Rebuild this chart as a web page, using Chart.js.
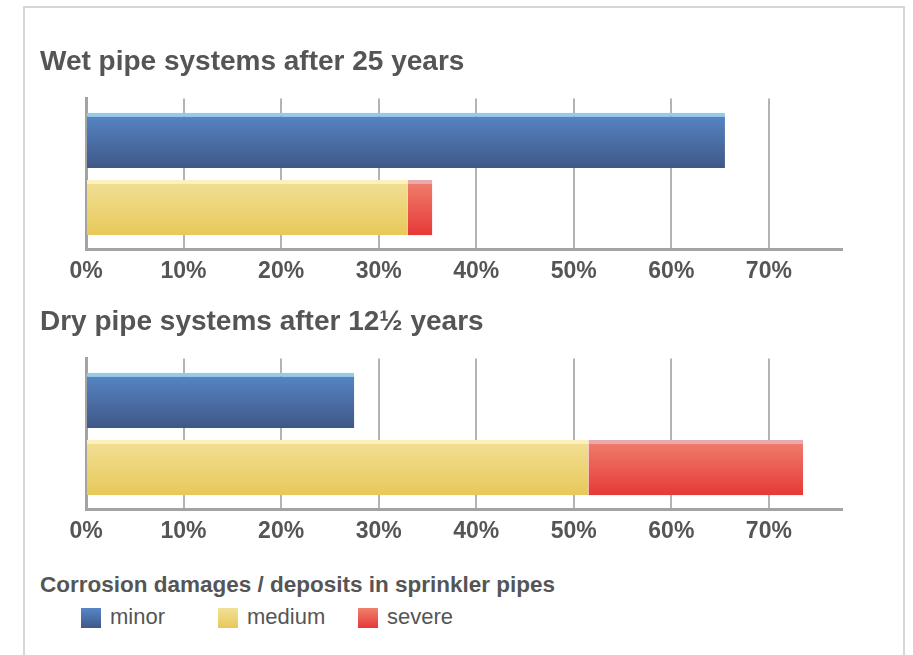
<!DOCTYPE html>
<html>
<head>
<meta charset="utf-8">
<script src="https://cdn.jsdelivr.net/npm/chart.js@4/dist/chart.umd.min.js"></script>
<style>
    body { margin: 0; background: #fff; width: 913px; height: 655px; overflow: hidden; position: relative; font-family: "Liberation Sans", Arial, sans-serif; }
    #frame { position: absolute; left: 23px; top: 6px; width: 878px; height: 700px; border: 2px solid #d6d6d6; }
    .box { position: absolute; left: 40px; width: 803px; height: 249px; }
    #legendTitle { position: absolute; left: 40px; top: 572px; font-weight: bold; font-size: 22.5px; color: #555; }
    #legend { position: absolute; left: 81px; top: 606px; font-size: 22px; color: #555; }
    .item { position: absolute; top: 0; white-space: nowrap; }
    .swatch { position: absolute; top: 2px; width: 20px; height: 20px; }
    .item span.txt { position: absolute; left: 29px; top: -1px; line-height: 24px; }
</style>
</head>
<body>
<div id="frame"></div>
<div class="box" style="top:44px"><canvas id="wetChart"></canvas></div>
<div class="box" style="top:304px"><canvas id="dryChart"></canvas></div>
<div id="legendTitle">Corrosion damages / deposits in sprinkler pipes</div>
<div id="legend"></div>

<script>
// chart data (percent of pipes)
const systems = ['Wet pipe systems after 25 years', 'Dry pipe systems after 12½ years'];
const seriesNames = ['minor', 'medium', 'severe'];
const minor = [65.5, 27.5];
const medium = [33, 51.5];
const severe = [2.5, 22];
const tickSteps = 10;

// top colour, bottom colour, light strip on top
const palette = {
    minor: ['#5787c7', '#3f5786', '#94cbe9'],
    medium: ['#f1e096', '#e8c85a', '#fcf1bc'],
    severe: ['#f0806e', '#e63937', '#e9a9b1']
};

const gradientPlugin = {
    id: 'barGradient',
    beforeDatasetsDraw(chart) {
        const ctx = chart.ctx;
        chart.data.datasets.forEach((ds, i) => {
            const meta = chart.getDatasetMeta(i);
            const cols = palette[ds.label];
            meta.data.forEach(bar => {
                const top = bar.y - bar.height / 2;
                const g = ctx.createLinearGradient(0, top, 0, top + bar.height);
                g.addColorStop(0, cols[0]);
                g.addColorStop(1, cols[1]);
                bar.options.backgroundColor = g;
            });
        });
    }
};

function makeChart(canvasId, idx) {
    const ctx = document.getElementById(canvasId).getContext('2d');
    const values = { minor: minor[idx], medium: medium[idx], severe: severe[idx] };
    const stacks = { minor: 'a', medium: 'b', severe: 'b' };
    new Chart(ctx, {
        type: 'bar',
        data: {
            labels: [''],
            datasets: seriesNames.map(name => ({
                label: name,
                data: [values[name]],
                stack: stacks[name],
                backgroundColor: palette[name][0],
                borderColor: palette[name][2],
                borderWidth: { top: 4, right: 0, bottom: 0, left: 0 },
                borderSkipped: false,
                categoryPercentage: 0.889,
                barPercentage: 0.824
            }))
        },
        options: {
            indexAxis: 'y',
            responsive: true,
            maintainAspectRatio: false,
            animation: false,
            layout: { padding: 0 },
            plugins: {
                legend: { display: false },
                tooltip: { enabled: false },
                title: {
                    display: true,
                    text: systems[idx],
                    align: 'start',
                    color: '#555',
                    font: { family: 'Liberation Sans', size: 28, weight: 'bold' },
                    padding: { top: 1, bottom: 20 }
                }
            },
            scales: {
                x: {
                    type: 'linear',
                    stacked: true,
                    min: 0,
                    max: 77.6,
                    grid: { color: '#b3b3b3', lineWidth: 2, drawTicks: false },
                    border: { color: '#a3a3a3', width: 3 },
                    ticks: {
                        stepSize: tickSteps,
                        includeBounds: false,
                        padding: 8,
                        color: '#555',
                        font: { family: 'Liberation Sans', size: 23, weight: 'bold' },
                        callback: v => v + '%'
                    }
                },
                y: {
                    stacked: true,
                    offset: true,
                    grid: { display: false },
                    border: { color: '#a3a3a3', width: 3 },
                    ticks: { display: false },
                    afterFit: scale => { scale.width = 46; }
                }
            }
        },
        plugins: [gradientPlugin]
    });
}

makeChart('wetChart', 0);
makeChart('dryChart', 1);

// legend under the charts
const legendPos = [0, 137, 277];
const legend = document.getElementById('legend');
seriesNames.forEach((name, i) => {
    const item = document.createElement('div');
    item.className = 'item';
    item.style.left = legendPos[i] + 'px';
    const sw = document.createElement('div');
    sw.className = 'swatch';
    sw.style.background = 'linear-gradient(' + palette[name][0] + ',' + palette[name][1] + ')';
    const txt = document.createElement('span');
    txt.className = 'txt';
    txt.textContent = name;
    item.appendChild(sw);
    item.appendChild(txt);
    legend.appendChild(item);
});
</script>
</body>
</html>
